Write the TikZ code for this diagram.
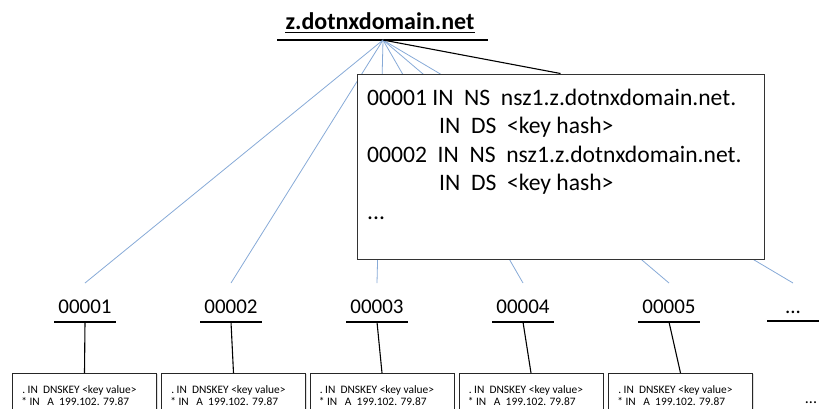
\documentclass[tikz,border=0pt]{standalone}
\usepackage{fontspec}
\setmainfont{Carlito}
\usetikzlibrary{shadows}
\definecolor{linkblue}{RGB}{135,170,215}
\tikzset{
  blueline/.style={draw=linkblue, line width=0.8pt},
  blackline/.style={draw=black, line width=1.1pt},
  titletext/.style={font=\fontsize{24}{26}\selectfont\bfseries, inner sep=0pt, anchor=base},
  lbl/.style={font=\fontsize{21}{24}\selectfont, inner sep=0pt, anchor=base},
  nsbox/.style={draw=black!80, fill=white, line width=1pt, minimum width=407pt, minimum height=185pt,
    drop shadow={opacity=0.35, shadow xshift=1.2pt, shadow yshift=-1.2pt}},
  nstext/.style={font=\fontsize{23.6}{26}\selectfont, inner sep=0pt, anchor=base west},
  zonebox/.style={draw=black!85, fill=white, line width=0.9pt, minimum width=144pt, minimum height=60pt, anchor=north,
    drop shadow={opacity=0.25, shadow xshift=1pt, shadow yshift=-1pt}},
  zonetext/.style={font=\fontsize{11.4}{12}\selectfont, inner sep=0pt, anchor=base west},
}
\begin{document}
\begin{tikzpicture}[x=1pt,y=-1pt]
\useasboundingbox (0,0) rectangle (819,408);
\clip (0,0) rectangle (819,408);
% title
\node[titletext] (title) at (380,29) {z.dotnxdomain.net};
\draw[line width=1.1pt] ([yshift=-3.5pt]title.base west) -- ([yshift=-3.5pt]title.base east);
\coordinate (tl) at (277,40);
\coordinate (tr) at (488,40);
\coordinate (root) at (383,40);
\draw[line width=1.2pt] (tl) -- (tr);
% labels
\node[lbl] (n1) at (85,313) {00001};
\node[lbl] (n2) at (231,313) {00002};
\node[lbl] (n3) at (377,313) {00003};
\node[lbl] (n4) at (523,313) {00004};
\node[lbl] (n5) at (669,313) {00005};
\node[lbl] (n6) at (793,313) {...};
% blue links
\foreach \n in {n1,n2,n3,n4,n5,n6}{
  \draw[blueline] (root) -- ([yshift=30pt]\n.base);
}
% NS box
\node[nsbox] (ns) at (560.5,166.5) {};
\draw[blackline] (root) -- (ns.north);
\node[nstext] (t1) at (367,105) {00001 IN\ \ NS\ \ nsz1.z.dotnxdomain.net.};
\node[nstext] (t2) at (439,133) {IN\ \ DS\ \ <key hash>};
\node[nstext] (t3) at (367,162) {00002\ \ IN\ \ NS\ \ nsz1.z.dotnxdomain.net.};
\node[nstext] (t4) at (439,190) {IN\ \ DS\ \ <key hash>};
\node[nstext] (t5) at (367,219) {...};
% underlines
\foreach \n in {n1,n2,n3,n4,n5}{
  \draw[line width=1.1pt] ([xshift=-31pt,yshift=-9pt]\n.base) -- ([xshift=31pt,yshift=-9pt]\n.base);
}
\draw[line width=1.1pt] ([xshift=-26pt,yshift=-8pt]n6.base) -- ([xshift=40pt,yshift=-8pt]n6.base);
% zone boxes
\node[zonebox] (b1) at (84.5,373) {};
\node[zonebox] (b2) at (233.5,373) {};
\node[zonebox] (b3) at (382,373) {};
\node[zonebox] (b4) at (531,373) {};
\node[zonebox] (b5) at (680.5,373) {};
\foreach \i in {1,...,5}{
  \draw[blackline] ([yshift=-9pt]n\i.base) -- (b\i.north);
  \node[zonetext] (za\i) at ([xshift=10pt,yshift=-20pt]b\i.north west) {.\ IN\ \ DNSKEY <key value>};
  \node[zonetext] (zb\i) at ([xshift=9pt,yshift=-32pt]b\i.north west) {*\ IN\ \ \ A\ \ 199.102. 79.87};
}
\node[font=\fontsize{16}{16}\selectfont, inner sep=0pt, anchor=base] (more) at (811,403) {...};
\end{tikzpicture}
\end{document}
